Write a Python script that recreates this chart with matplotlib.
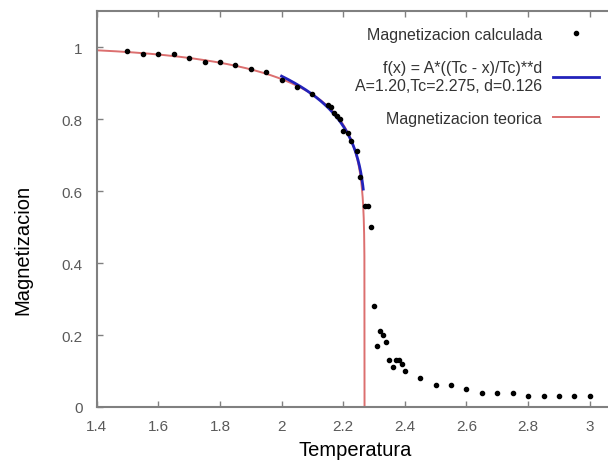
import numpy as np
import matplotlib.pyplot as plt

plt.rcParams["font.family"] = ["Liberation Sans", "DejaVu Sans"]

# Simulated magnetization (Ising 2D, Monte Carlo)
temps = [1.50, 1.55, 1.60, 1.65, 1.70, 1.75, 1.80, 1.85, 1.90, 1.95,
         2.00, 2.05, 2.10, 2.15, 2.16, 2.17, 2.18, 2.19, 2.20, 2.215,
         2.225, 2.245, 2.256, 2.27, 2.28, 2.29, 2.30, 2.31, 2.32, 2.33,
         2.34, 2.35, 2.36, 2.37, 2.38, 2.39, 2.40, 2.45, 2.50, 2.55,
         2.60, 2.65, 2.70, 2.75, 2.80, 2.85, 2.90, 2.95, 3.00]
mag = [0.99, 0.98, 0.98, 0.98, 0.97, 0.96, 0.96, 0.95, 0.94, 0.93,
       0.91, 0.89, 0.87, 0.84, 0.833, 0.816, 0.81, 0.80, 0.768, 0.761,
       0.74, 0.712, 0.639, 0.56, 0.56, 0.50, 0.28, 0.17, 0.21, 0.20,
       0.18, 0.13, 0.11, 0.13, 0.13, 0.12, 0.10, 0.08, 0.06, 0.06,
       0.05, 0.04, 0.04, 0.04, 0.03, 0.03, 0.03, 0.03, 0.03]

# Fit parameters
A = 1.20
TC_FIT = 2.275
D = 0.126
fit_range = (2.0, 2.265)

x_ticks = [1.4, 1.6, 1.8, 2.0, 2.2, 2.4, 2.6, 2.8, 3.0]
x_tick_labels = ["1.4", "1.6", "1.8", "2", "2.2", "2.4", "2.6", "2.8", "3"]
y_ticks = [0, 0.2, 0.4, 0.6, 0.8, 1.0]
y_tick_labels = ["0", "0.2", "0.4", "0.6", "0.8", "1"]


def onsager(t):
    return (1.0 - np.sinh(2.0 / t) ** -4) ** 0.125


def fit_curve(t):
    return A * ((TC_FIT - t) / TC_FIT) ** D


tc_exact = 2.0 / np.log(1.0 + np.sqrt(2.0))
t_theo = np.linspace(1.4, tc_exact, 2000)
m_theo = np.append(np.nan_to_num(onsager(t_theo[:-1])), 0.0)
t_fit = np.linspace(*fit_range, 400)

fig = plt.figure(figsize=(6.08, 4.64), dpi=100)
ax = fig.add_axes([0.159, 0.1207, 0.849, 0.853])

ax.plot(temps, mag, "o", color="black", markersize=3.0, zorder=3,
        label="Magnetizacion calculada")
ax.plot(t_fit, fit_curve(t_fit), color="#2222bb", lw=2.0, zorder=2,
        label="f(x) = A*((Tc - x)/Tc)**d\nA=1.20,Tc=2.275, d=0.126")
ax.plot(t_theo, m_theo, color="#dc6f6f", lw=1.4, zorder=1,
        label="Magnetizacion teorica")

ax.set_xlim(1.4, 3.075)
ax.set_ylim(0, 1.1)
ax.set_xticks(x_ticks, x_tick_labels)
ax.set_yticks(y_ticks, y_tick_labels)
ax.tick_params(direction="in", length=4, width=1, colors="#808080",
               labelcolor="#5a5a5a", labelsize=11,
               top=True, right=False)
ax.tick_params(axis="x", pad=9)
ax.tick_params(axis="y", pad=10)
for side in ("left", "bottom", "top"):
    ax.spines[side].set_color("#808080")
    ax.spines[side].set_linewidth(1.5)
ax.spines["right"].set_visible(False)

ax.set_xlabel("Temperatura", fontsize=14.5)
ax.set_ylabel("Magnetizacion", fontsize=14.5)
ax.xaxis.set_label_coords(0.5, -0.084)
ax.yaxis.set_label_coords(-0.124, 0.40)

leg = ax.legend(loc="upper right", bbox_to_anchor=(0.985, 0.94),
                bbox_transform=fig.transFigure, frameon=False,
                markerfirst=False, fontsize=11.5, handlelength=2.85,
                handletextpad=0.7, labelspacing=1.15, borderaxespad=0,
                borderpad=0, numpoints=1)
for txt in leg.get_texts():
    txt.set_color("#333333")
    txt.set_multialignment("right")

fig.savefig("out.png", dpi=100)
